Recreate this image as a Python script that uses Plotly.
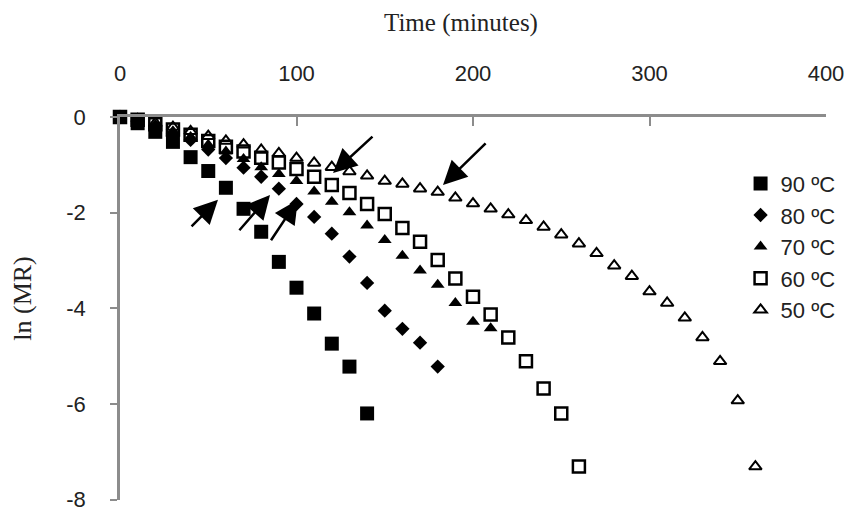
import plotly.graph_objects as go

# ---- data ----
t90 = [0, 10, 20, 30, 40, 50, 60, 70, 80, 90, 100, 110, 120, 130, 140]
y90 = [0, -0.13, -0.31, -0.52, -0.84, -1.13, -1.48, -1.92, -2.40, -3.03, -3.57, -4.11, -4.74, -5.22, -6.20]

t80 = [0, 10, 20, 30, 40, 50, 60, 70, 80, 90, 100, 110, 120, 130, 140, 150, 160, 170, 180]
y80 = [0, -0.08, -0.2, -0.35, -0.48, -0.68, -0.86, -1.06, -1.25, -1.50, -1.82, -2.09, -2.44, -2.92, -3.47, -4.05, -4.43, -4.72, -5.22]

t70 = [0, 10, 20, 30, 40, 50, 60, 70, 80, 90, 100, 110, 120, 130, 140, 150, 160, 170, 180, 190, 200, 210]
y70 = [0, -0.07, -0.17, -0.3, -0.42, -0.58, -0.72, -0.88, -1.05, -1.19, -1.34, -1.56, -1.77, -1.99, -2.27, -2.57, -2.90, -3.21, -3.51, -3.89, -4.28, -4.42]

t60 = [0, 10, 20, 30, 40, 50, 60, 70, 80, 90, 100, 110, 120, 130, 140, 150, 160, 170, 180, 190, 200, 210, 220, 230, 240, 250, 260]
y60 = [0, -0.06, -0.15, -0.26, -0.37, -0.5, -0.62, -0.72, -0.85, -0.95, -1.09, -1.25, -1.42, -1.59, -1.82, -2.03, -2.32, -2.61, -2.99, -3.38, -3.76, -4.13, -4.61, -5.11, -5.68, -6.20, -7.31]

t50 = [0, 10, 20, 30, 40, 50, 60, 70, 80, 90, 100, 110, 120, 130, 140, 150, 160, 170, 180,
       190, 200, 210, 220, 230, 240, 250, 260, 270, 280, 290, 300, 310, 320, 330, 340, 350, 360]
y50 = [0, -0.05, -0.13, -0.21, -0.3, -0.4, -0.5, -0.58, -0.69, -0.76, -0.86, -0.96, -1.05, -1.14, -1.23, -1.34, -1.40, -1.50, -1.57,
       -1.69, -1.81, -1.92, -2.04, -2.16, -2.30, -2.46, -2.65, -2.85, -3.11, -3.33, -3.65, -3.89, -4.20, -4.61, -5.11, -5.93, -7.31]

labels = ["90 ºC", "80 ºC", "70 ºC", "60 ºC", "50 ºC"]

# arrows: tip (t, y) and tail (t, y) in data units
arrow_tip_t = [55.5, 85, 100.8, 120.7, 183]
arrow_tip_y = [-1.73, -1.63, -1.73, -1.17, -1.42]
arrow_tail_t = [39.7, 66.9, 85, 143.9, 208]
arrow_tail_y = [-2.32, -2.40, -2.61, -0.38, -0.52]

x_ticks = [0, 100, 200, 300, 400]
y_ticks = [0, -2, -4, -6, -8]

fig = go.Figure()

styles = [
    dict(symbol="square", size=14, color="black"),
    dict(symbol="diamond", size=11, color="black"),
    dict(symbol="triangle-up", size=12, color="black"),
    dict(symbol="square-open", size=12, color="black", line=dict(width=2.5, color="black")),
    dict(symbol="triangle-up-open", size=11, color="black", line=dict(width=2, color="black")),
]
series = [(t90, y90), (t80, y80), (t70, y70), (t60, y60), (t50, y50)]

order = [4, 3, 2, 1, 0]
for i in order:
    tx, ty = series[i]
    fig.add_trace(go.Scatter(
        x=tx, y=ty, mode="markers", name=labels[i],
        marker=styles[i], legendrank=i + 1, cliponaxis=False,
    ))

for tt, ty, lt, ly in zip(arrow_tip_t, arrow_tip_y, arrow_tail_t, arrow_tail_y):
    fig.add_annotation(
        x=tt, y=ty, ax=lt, ay=ly, xref="x", yref="y", axref="x", ayref="y",
        showarrow=True, arrowhead=2, arrowsize=1.9, arrowwidth=2.5, arrowcolor="black",
        text="",
    )

fig.add_annotation(
    text="Time (minutes)", xref="paper", yref="paper", x=0.483, y=1.245,
    showarrow=False, font=dict(family="Liberation Serif", size=25, color="#222"),
    xanchor="center", yanchor="middle",
)
fig.add_annotation(
    text="ln (MR)", xref="paper", yref="paper", x=-0.138, y=0.527, textangle=-90,
    showarrow=False, font=dict(family="Liberation Serif", size=26, color="#222"),
    xanchor="center", yanchor="middle",
)

fig.update_layout(
    width=849, height=512,
    margin=dict(l=120, r=23, t=117, b=12, autoexpand=False),
    paper_bgcolor="white", plot_bgcolor="white",
    showlegend=True,
    legend=dict(
        x=0.879, y=0.881, xanchor="left", yanchor="top",
        font=dict(family="Liberation Sans", size=22, color="#222"),
        bgcolor="rgba(0,0,0,0)", itemwidth=30,
    ),
    xaxis=dict(
        range=[0, 400], side="top", tickvals=x_ticks, ticktext=[str(v) for v in x_ticks],
        ticks="inside", ticklen=9, tickwidth=2, tickcolor="#8c8c8c",
        showline=True, linecolor="#8c8c8c", linewidth=2.5, showgrid=False, zeroline=False,
        tickfont=dict(family="Liberation Sans", size=22, color="#222"),
        ticklabelstandoff=24, automargin=False,
    ),
    yaxis=dict(
        range=[-8.01, 0], tickvals=y_ticks, ticktext=[str(v) for v in y_ticks],
        ticks="outside", ticklen=7, tickwidth=2, tickcolor="#8c8c8c",
        showline=True, linecolor="#8c8c8c", linewidth=2.5, showgrid=False, zeroline=False,
        tickfont=dict(family="Liberation Sans", size=22, color="#222"),
        ticklabelstandoff=20, ticklabeloverflow="allow", automargin=False,
    ),
)

fig.write_html("out.html", config={"displayModeBar": False},
               post_script="document.body.style.margin='0';")
